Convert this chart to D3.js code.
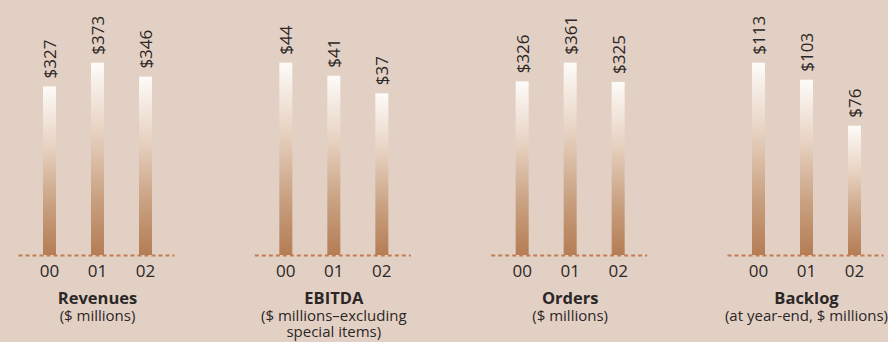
<!DOCTYPE html>
<html>
<head>
<meta charset="utf-8">
<script src="https://cdn.jsdelivr.net/npm/d3@7"></script>
<style>
  html, body { margin: 0; padding: 0; background: #e3d0c4; }
  svg { display: block; }
  text { font-family: "Open Sans", "Noto Sans", sans-serif; fill: #2b2726; }
</style>
</head>
<body>
<svg id="chart" width="888" height="342"></svg>
<script>
// Years shared by every panel
const years = ['00', '01', '02'];

// Panel series (values in $ millions)
const revenues = [327, 373, 346];
const ebitda = [44, 41, 37];
const orders = [326, 361, 325];
const backlog = [113, 103, 76];

const titles = ['Revenues', 'EBITDA', 'Orders', 'Backlog'];
const subtitles = [
  ['($ millions)'],
  ['($ millions\u2013excluding', 'special items)'],
  ['($ millions)'],
  ['(at year-end, $ millions)']
];
const seriesList = [revenues, ebitda, orders, backlog];

const BASE_Y = 255;
const TOP_Y = 62.7;
const BAR_W = 13;
const BAR_STEP = 48;

const svg = d3.select('#chart');

// Vertical gradient used for every bar — white top, tan bottom
const defs = svg.append('defs');
const grad = defs.append('linearGradient')
  .attr('id', 'barGrad')
  .attr('x1', 0).attr('y1', 0).attr('x2', 0).attr('y2', 1);
grad.append('stop').attr('offset', '0%').attr('stop-color', '#fdfbf8');
grad.append('stop').attr('offset', '35%').attr('stop-color', '#e8d3c3');
grad.append('stop').attr('offset', '70%').attr('stop-color', '#c9a181');
grad.append('stop').attr('offset', '100%').attr('stop-color', '#b47d55');

// Panel centres (middle bar)
const panelX = d3.scalePoint()
  .domain(titles)
  .range([97.5, 806.5]);

titles.forEach((title, i) => {
  const values = seriesList[i];
  const cx = panelX(title);

  const x = d3.scalePoint()
    .domain(years)
    .range([cx - BAR_STEP, cx + BAR_STEP]);

  const y = d3.scaleLinear()
    .domain([0, d3.max(values)])
    .range([BASE_Y, TOP_Y]);

  const g = svg.append('g').attr('class', 'panel');

  // Bars
  g.selectAll('rect.bar')
    .data(values)
    .join('rect')
    .attr('class', 'bar')
    .attr('x', (d, j) => x(years[j]) - BAR_W / 2)
    .attr('y', d => y(d))
    .attr('width', BAR_W)
    .attr('height', d => BASE_Y - y(d))
    .attr('fill', 'url(#barGrad)');

  // Dashed baseline
  g.append('line')
    .attr('x1', cx - 79)
    .attr('x2', cx + 77)
    .attr('y1', BASE_Y + 0.5)
    .attr('y2', BASE_Y + 0.5)
    .attr('stroke', '#c27d52')
    .attr('stroke-width', 2)
    .attr('stroke-dasharray', '4 3');

  // Value labels, rotated
  g.selectAll('text.value')
    .data(values)
    .join('text')
    .attr('class', 'value')
    .attr('transform', (d, j) => `translate(${x(years[j]) + 6.5},${y(d) - 8}) rotate(-90)`)
    .attr('font-size', '17px')
    .text(d => '$' + d);

  // Year tick labels
  g.selectAll('text.tick')
    .data(years)
    .join('text')
    .attr('class', 'tick')
    .attr('x', d => x(d))
    .attr('y', 277)
    .attr('text-anchor', 'middle')
    .attr('font-size', '17px')
    .text(d => d);

  // Title + subtitle
  g.append('text')
    .attr('x', cx)
    .attr('y', 304)
    .attr('text-anchor', 'middle')
    .attr('font-size', '16.5px')
    .attr('font-weight', 'bold')
    .text(title);

  g.selectAll('text.sub')
    .data(subtitles[i])
    .join('text')
    .attr('class', 'sub')
    .attr('x', cx)
    .attr('y', (d, k) => 321 + k * 16)
    .attr('text-anchor', 'middle')
    .attr('font-size', '15px')
    .text(d => d);
});
</script>
</body>
</html>
